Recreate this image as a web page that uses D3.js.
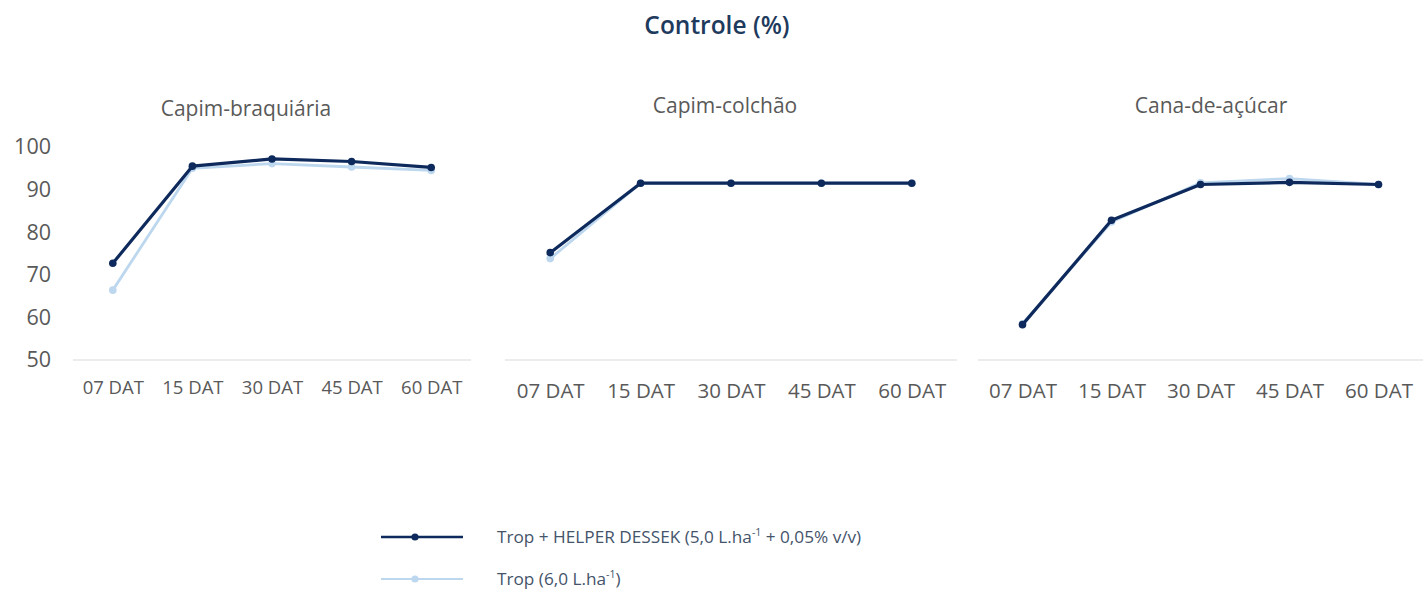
<!DOCTYPE html>
<html>
<head>
<meta charset="utf-8">
<script src="https://cdn.jsdelivr.net/npm/d3@7"></script>
<style>
  html, body { margin: 0; padding: 0; background: #ffffff; }
  svg { display: block; font-family: "Open Sans", "Noto Sans", sans-serif; }
</style>
</head>
<body>
<svg id="chart" width="1424" height="591"></svg>
<script>
// Evaluation dates (days after treatment)
const categories = ["07 DAT", "15 DAT", "30 DAT", "45 DAT", "60 DAT"];
const panelNames = ["Capim-braquiária", "Capim-colchão", "Cana-de-açúcar"];
const yTicks = [50, 60, 70, 80, 90, 100];

// Weed control (%) — Trop + HELPER DESSEK
const helperBraquiaria = [72.7, 95.5, 97.2, 96.6, 95.2];
const helperColchao    = [75.2, 91.5, 91.5, 91.5, 91.5];
const helperCana       = [58.3, 82.8, 91.2, 91.7, 91.2];

// Weed control (%) — Trop alone
const tropBraquiaria = [66.4, 95.0, 96.1, 95.3, 94.5];
const tropColchao    = [73.8, 91.5, 91.5, 91.5, 91.5];
const tropCana       = [58.5, 82.4, 91.6, 92.6, 91.2];

const helperSeries = [helperBraquiaria, helperColchao, helperCana];
const tropSeries   = [tropBraquiaria, tropColchao, tropCana];

const COLOR_HELPER = "#0e2a5c";
const COLOR_TROP   = "#bdd7ee";
const TEXT_GREY    = "#595959";

const svg = d3.select("#chart");

// Main title
svg.append("text")
  .attr("x", 717).attr("y", 34)
  .attr("text-anchor", "middle")
  .attr("font-size", 24.5).attr("font-weight", 600)
  .attr("fill", "#1e3a5c")
  .text("Controle (%)");

// Panel frames: plot area extent, title centre and label sizes
const layout = [
  { x0: 73,  x1: 471,  titleX: 246,  titleY: 116, tickSize: 18.5, tickY: 394, yAxis: true },
  { x0: 505, x1: 957,  titleX: 725,  titleY: 113, tickSize: 20.5, tickY: 398, yAxis: false },
  { x0: 978, x1: 1423, titleX: 1211, titleY: 113, tickSize: 20.5, tickY: 398, yAxis: false }
];

const y = d3.scaleLinear().domain([50, 100]).range([360, 147]);

panelNames.forEach((name, i) => {
  const L = layout[i];
  const g = svg.append("g");
  const x = d3.scalePoint().domain(categories).range([L.x0, L.x1]).padding(0.5);

  g.append("text")
    .attr("x", L.titleX).attr("y", L.titleY)
    .attr("text-anchor", "middle")
    .attr("font-size", 21)
    .attr("fill", TEXT_GREY)
    .text(name);

  // Category axis
  const xa = g.append("g")
    .attr("transform", `translate(0,${y(50)})`)
    .call(d3.axisBottom(x).tickSize(0).tickSizeOuter(0));
  xa.select(".domain").attr("stroke", "#d9d9d9").attr("stroke-width", 1)
    .attr("d", `M${L.x0},0H${L.x1}`);
  xa.selectAll(".tick text")
    .attr("dy", 0).attr("y", L.tickY - y(50))
    .attr("font-size", L.tickSize)
    .attr("font-family", "Open Sans, sans-serif")
    .attr("fill", TEXT_GREY);

  // Value axis (first panel only)
  if (L.yAxis) {
    const ya = g.append("g")
      .attr("transform", "translate(51,0)")
      .call(d3.axisLeft(y).tickValues(yTicks).tickSize(0).tickPadding(0));
    ya.select(".domain").remove();
    ya.selectAll(".tick text")
      .attr("font-size", 21.5)
      .attr("font-family", "Open Sans, sans-serif")
      .attr("fill", TEXT_GREY);
  }

  const line = d3.line()
    .x((d, j) => x(categories[j]))
    .y(d => y(d));

  [[tropSeries[i], COLOR_TROP, 2.8], [helperSeries[i], COLOR_HELPER, 3.2]].forEach(([vals, col, w]) => {
    g.append("path")
      .datum(vals)
      .attr("fill", "none")
      .attr("stroke", col)
      .attr("stroke-width", w)
      .attr("stroke-linejoin", "round")
      .attr("d", line);
    g.selectAll(null)
      .data(vals)
      .enter().append("circle")
      .attr("cx", (d, j) => x(categories[j]))
      .attr("cy", d => y(d))
      .attr("r", 3.8)
      .attr("fill", col);
  });
});

// Legend
const legendItems = [
  { color: COLOR_HELPER, width: 2.6, yPos: 537,
    parts: [["Trop + HELPER DESSEK (5,0 L.ha", false], ["-1", true], [" + 0,05% v/v)", false]] },
  { color: COLOR_TROP, width: 2, yPos: 579,
    parts: [["Trop (6,0 L.ha", false], ["-1", true], [")", false]] }
];

const legend = svg.append("g");
legendItems.forEach(item => {
  legend.append("line")
    .attr("x1", 381).attr("x2", 463)
    .attr("y1", item.yPos).attr("y2", item.yPos)
    .attr("stroke", item.color).attr("stroke-width", item.width);
  legend.append("circle")
    .attr("cx", 415).attr("cy", item.yPos).attr("r", 3.6)
    .attr("fill", item.color);
  const t = legend.append("text")
    .attr("x", 497).attr("y", item.yPos + 6)
    .attr("font-size", 17.2)
    .attr("fill", "#44546a");
  item.parts.forEach(([txt, sup]) => {
    const ts = t.append("tspan").text(txt);
    if (sup) ts.attr("font-size", 10.5).attr("dy", -7);
    else if (t.selectAll("tspan").size() > 1) ts.attr("dy", 7);
  });
});
</script>
</body>
</html>
